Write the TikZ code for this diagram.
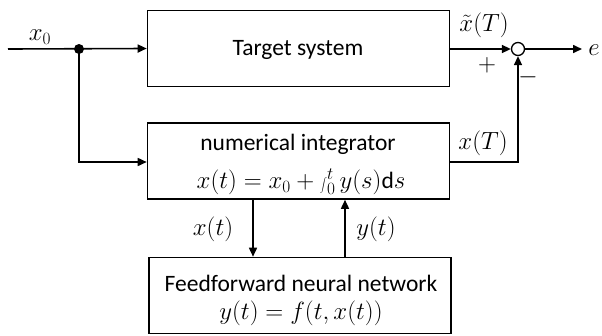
\documentclass[tikz,border=0pt]{standalone}
\usepackage{fontspec}
\setmainfont{Carlito}
\usepackage{graphicx}
\usetikzlibrary{arrows.meta}
\newcommand{\bigint}{\mathop{\raisebox{-0.15ex}{\scalebox{0.72}{$\displaystyle\int$}}}\nolimits}
\begin{document}
\begin{tikzpicture}[x=1pt,y=-1pt,
  every node/.style={font=\fontsize{23.5}{28}\selectfont, inner sep=0pt},
  blockbox/.style={draw, line width=1.6pt, minimum width=302pt, minimum height=76pt},
  wire/.style={line width=1.6pt},
  arr/.style={wire, -{Triangle[length=9pt,width=8pt]}},
  lbl/.style={anchor=center}]
\useasboundingbox (0,0) rectangle (602,335);
% blocks
\node[blockbox] (target) at (298.5,48.5) {};
\node[blockbox] (integ) at (298.5,161) {};
\node[blockbox] (nn) at (300,295.5) {};
% texts
\node[lbl] (ttarget) at (298,50) {Target system};
\node[lbl] (tinteg) at (298,144) {numerical integrator};
\node[lbl] (einteg) at (301,182) {$x(t)=x_0+\bigint_0^t y(s)\mathrm{d}s$};
\node[lbl] (tnn) at (301,283) {Feedforward neural network};
\node[lbl] (enn) at (301,313) {$y(t)=f(t,x(t))$};
% junctions
\coordinate (in) at (8,49);
\node[circle, fill, minimum size=10pt] (dot) at (79,49) {};
\node[circle, draw, line width=1.3pt, minimum size=13pt] (sum) at (518,49) {};
\coordinate (out) at (582,49);
\coordinate (xa) at (253,0);
\coordinate (ya) at (345,0);
% connectors
\draw[arr] (in) -- (target.west);
\draw[arr] (dot.center) |- (integ.west |- 0,162);
\draw[arr] (target.east |- sum) -- (sum.west);
\draw[arr] (integ.east |- 0,162) -| (sum.south);
\draw[arr] (sum.east) -- (out);
\draw[arr] (integ.south -| xa) -- (nn.north -| xa);
\draw[arr] (nn.north -| ya) -- (integ.south -| ya);
% labels
\node[lbl] (lx0) at (40,37) {$x_0$};
\node[lbl] (lxt) at (484,25) {$\tilde{x}(T)$};
\node[lbl] (lplus) at (487,65) {$+$};
\node[lbl] (lminus) at (528,77) {$-$};
\node[lbl] (le) at (594,50) {$e$};
\node[lbl] (lxT) at (483,143) {$x(T)$};
\node[lbl] (lxtt) at (213,229) {$x(t)$};
\node[lbl] (lyt) at (376,229) {$y(t)$};
\end{tikzpicture}
\end{document}
